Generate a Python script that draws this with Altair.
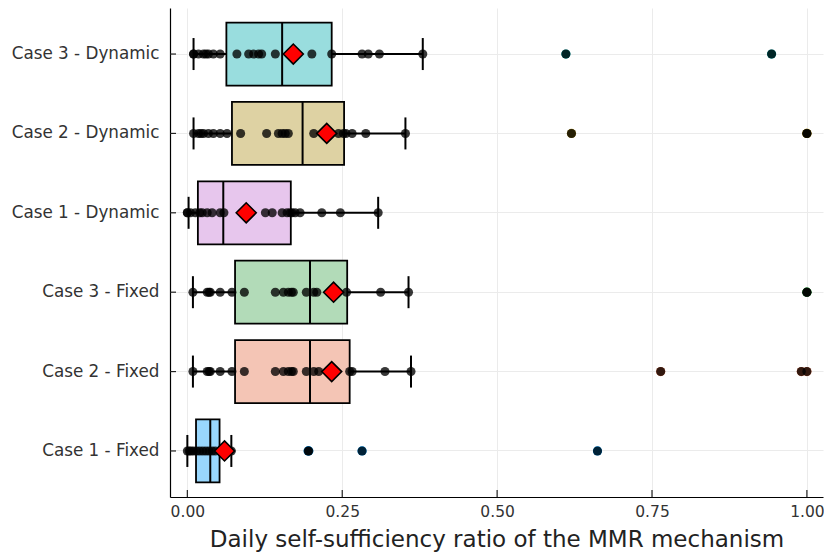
import altair as alt
import pandas as pd

# Category order, top to bottom
categories = [
    "Case 3 - Dynamic",
    "Case 2 - Dynamic",
    "Case 1 - Dynamic",
    "Case 3 - Fixed",
    "Case 2 - Fixed",
    "Case 1 - Fixed",
]

# Series colours (line colour and light box fill)
line_colors = ["#00A9AD", "#AC8E18", "#C271D2", "#3EA44E", "#E36F47", "#009AFA"]
fill_colors = ["#99ddde", "#ded2a3", "#e7c6ed", "#b2dbb8", "#f4c5b5", "#99d7fd"]

# Box statistics per case
q1 = [0.063, 0.072, 0.017, 0.077, 0.077, 0.014]
median = [0.153, 0.186, 0.058, 0.198, 0.198, 0.037]
q3 = [0.233, 0.253, 0.167, 0.258, 0.262, 0.052]
whisker_lo = [0.010, 0.010, 0.002, 0.009, 0.009, 0.000]
whisker_hi = [0.380, 0.352, 0.308, 0.357, 0.361, 0.071]
mean = [0.171, 0.225, 0.095, 0.236, 0.233, 0.060]

# Daily observations per case
case3_dynamic = [0.010, 0.010, 0.018, 0.026, 0.030, 0.034, 0.042, 0.053, 0.080, 0.099,
                 0.107, 0.115, 0.120, 0.142, 0.201, 0.233, 0.282, 0.292, 0.310, 0.380]
case2_dynamic = [0.010, 0.018, 0.022, 0.026, 0.034, 0.042, 0.053, 0.064, 0.086, 0.128,
                 0.147, 0.153, 0.158, 0.163, 0.204, 0.225, 0.244, 0.252, 0.256, 0.266,
                 0.288, 0.352]
case1_dynamic = [0.000, 0.000, 0.005, 0.013, 0.020, 0.024, 0.032, 0.040, 0.053, 0.059,
                 0.126, 0.137, 0.153, 0.161, 0.166, 0.169, 0.174, 0.182, 0.217, 0.247,
                 0.308]
case3_fixed = [0.009, 0.032, 0.035, 0.037, 0.053, 0.072, 0.092, 0.142, 0.155, 0.163,
               0.168, 0.171, 0.192, 0.204, 0.209, 0.240, 0.257, 0.312, 0.357]
case2_fixed = [0.009, 0.032, 0.035, 0.037, 0.053, 0.072, 0.092, 0.142, 0.155, 0.163,
               0.168, 0.171, 0.192, 0.204, 0.212, 0.262, 0.266, 0.319, 0.361]
case1_fixed = [0.000, 0.003, 0.006, 0.010, 0.015, 0.020, 0.025, 0.030, 0.035, 0.040,
               0.045, 0.071]

# Outliers beyond the whiskers
out_case3_dynamic = [0.611, 0.943]
out_case2_dynamic = [0.620, 1.000, 1.000]
out_case1_dynamic = []
out_case3_fixed = [1.000, 1.000]
out_case2_fixed = [0.764, 0.991, 1.000]
out_case1_fixed = [0.195, 0.196, 0.282, 0.662]

x_ticks = [0.0, 0.25, 0.5, 0.75, 1.0]

observations = [case3_dynamic, case2_dynamic, case1_dynamic, case3_fixed, case2_fixed, case1_fixed]
outliers = [out_case3_dynamic, out_case2_dynamic, out_case1_dynamic,
            out_case3_fixed, out_case2_fixed, out_case1_fixed]

stats = pd.DataFrame({
    "case": categories, "q1": q1, "median": median, "q3": q3,
    "lo": whisker_lo, "hi": whisker_hi, "mean": mean,
})
points = pd.DataFrame(
    [{"case": c, "value": v} for c, vals in zip(categories, observations) for v in vals]
    + [{"case": c, "value": v} for c, vals in zip(categories, outliers) for v in vals]
)
outlier_df = pd.DataFrame(
    [{"case": c, "value": v} for c, vals in zip(categories, outliers) for v in vals]
)
ticks_df = pd.DataFrame({"tick": x_ticks})

W, H = 653, 489
FONT = "DejaVu Sans"

x_scale = alt.Scale(domain=[-0.028, 1.026], nice=False, zero=False)
y_scale = alt.Scale(domain=categories, paddingInner=0, paddingOuter=0.08)

x_axis = alt.Axis(
    values=x_ticks, format=".2f", title="Daily self-sufficiency ratio of the MMR mechanism",
    labelFontSize=15.5, labelColor="#333333", labelFont=FONT, labelPadding=7,
    titleFontSize=23, titleFontWeight="normal", titleColor="#222222", titleFont=FONT,
    titlePadding=9, tickSize=0, domainColor="#000000", domainWidth=1.2,
    grid=True, gridColor="#ebebeb", gridWidth=1,
)
y_axis = alt.Axis(
    title=None, labelFontSize=16.8, labelColor="#333333", labelFont=FONT, labelPadding=11,
    tickSize=0, domainColor="#000000", domainWidth=1.2,
    grid=True, gridColor="#ebebeb", gridWidth=1, bandPosition=0.5,
)

base = alt.Chart(stats)
y_enc = alt.Y("case:N", scale=y_scale, axis=y_axis, sort=categories)
y_plain = alt.Y("case:N", scale=y_scale, sort=categories)

whisker = base.mark_rule(color="black", strokeWidth=2).encode(
    x=alt.X("lo:Q", scale=x_scale, axis=x_axis), x2="hi:Q", y=y_enc
)
cap_lo = base.mark_tick(color="black", size=32, thickness=2, opacity=1).encode(
    x=alt.X("lo:Q", scale=x_scale), y=y_plain
)
cap_hi = base.mark_tick(color="black", size=32, thickness=2, opacity=1).encode(
    x=alt.X("hi:Q", scale=x_scale), y=y_plain
)
box = base.mark_bar(size=63, stroke="black", strokeWidth=1.8, opacity=1).encode(
    x=alt.X("q1:Q", scale=x_scale), x2="q3:Q", y=y_plain,
    fill=alt.Fill("case:N", scale=alt.Scale(domain=categories, range=fill_colors), legend=None),
)
med = base.mark_tick(color="black", size=63, thickness=2, opacity=1).encode(
    x=alt.X("median:Q", scale=x_scale), y=y_plain
)
out_colored = alt.Chart(outlier_df).mark_circle(size=85, opacity=1).encode(
    x=alt.X("value:Q", scale=x_scale), y=y_plain,
    color=alt.Color("case:N", scale=alt.Scale(domain=categories, range=line_colors), legend=None),
)
dots = alt.Chart(points).mark_circle(size=82, color="black", opacity=0.78).encode(
    x=alt.X("value:Q", scale=x_scale), y=y_plain
)
mean_pt = base.mark_point(shape="diamond", filled=True, fill="#ff0000", stroke="black",
                          strokeWidth=1.6, size=400, opacity=1).encode(
    x=alt.X("mean:Q", scale=x_scale), y=y_plain
)

# Inward-pointing axis ticks
x_tick_marks = alt.Chart(ticks_df).mark_rule(color="#222222", strokeWidth=1.2).encode(
    x=alt.X("tick:Q", scale=x_scale), y=alt.value(H - 7), y2=alt.value(H)
)
y_tick_marks = base.mark_rule(color="#222222", strokeWidth=1.2).encode(
    y=y_plain, x=alt.value(0), x2=alt.value(6)
)

chart = alt.layer(
    whisker, cap_lo, cap_hi, box, med, out_colored, dots, mean_pt, x_tick_marks, y_tick_marks
).resolve_scale(fill="independent", color="independent").properties(
    width=W, height=H,
    autosize=alt.AutoSizeParams(type="none"),
    padding={"left": 170, "top": 8, "right": 1, "bottom": 56},
    background="white",
).configure_view(stroke=None)

chart.save("out.html", embed_options={"renderer": "svg", "actions": False})
